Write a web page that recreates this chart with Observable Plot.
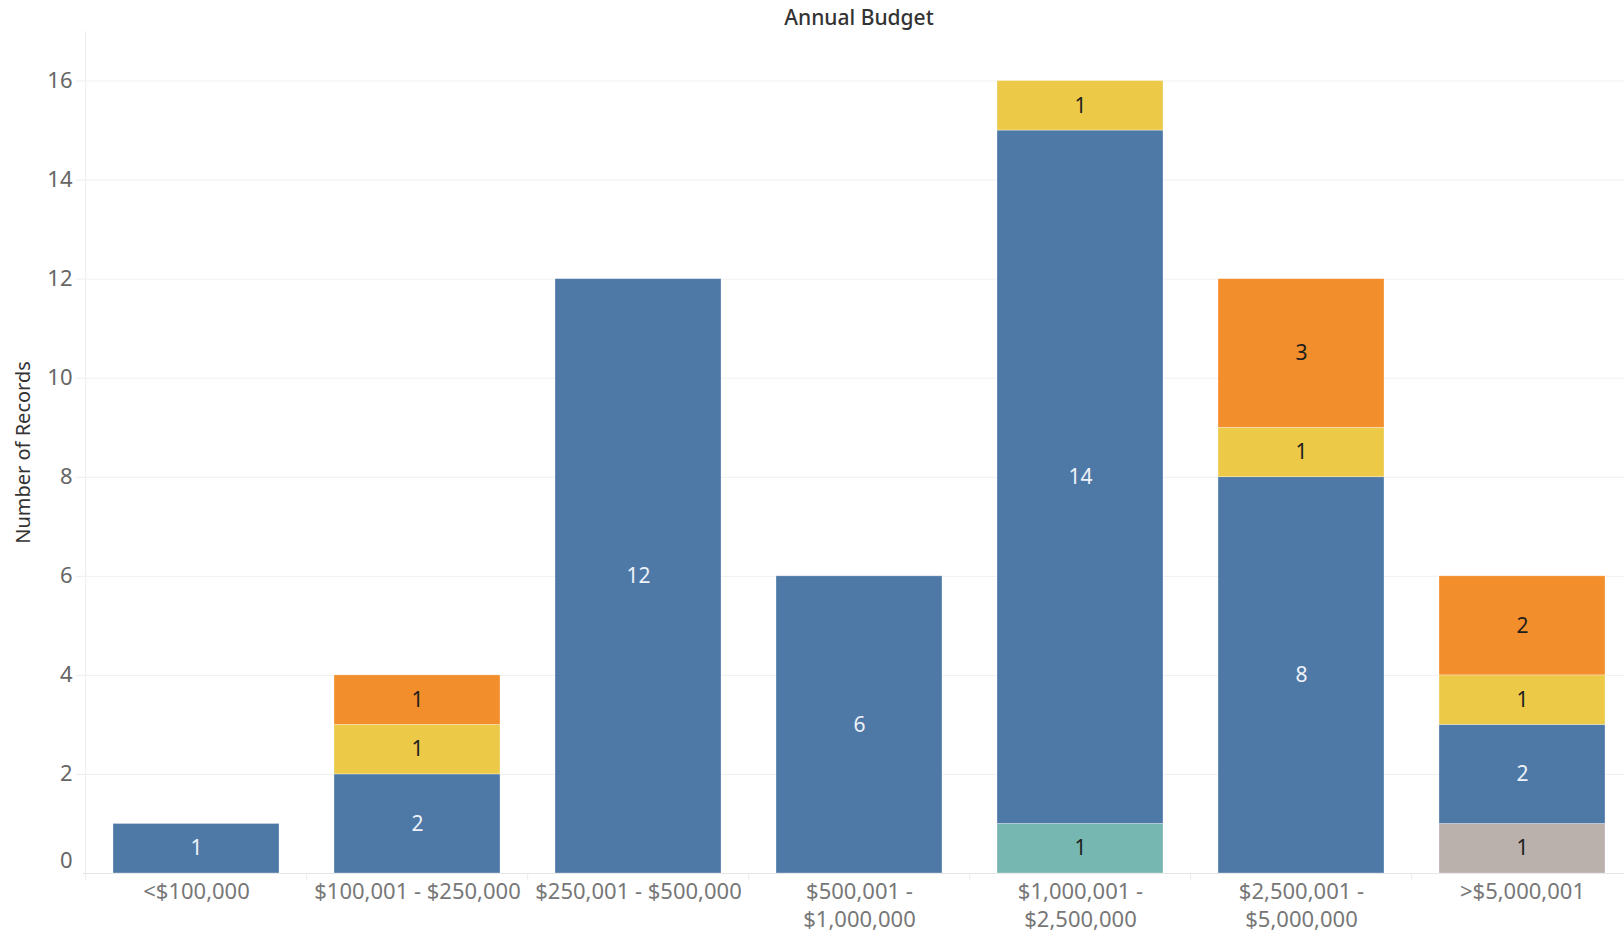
<!DOCTYPE html>
<html>
<head>
<meta charset="utf-8">
<script src="https://cdn.jsdelivr.net/npm/d3@7"></script>
<script src="https://cdn.jsdelivr.net/npm/@observablehq/plot@0.6"></script>
<style>
  html, body { margin: 0; padding: 0; background: #fff; overflow: hidden; }
  #chart svg { display: block; }
</style>
</head>
<body>
<div id="chart"></div>
<script>
// ---- Data ----
const categories = ["<$100,000", "$100,001 - $250,000", "$250,001 - $500,000", "$500,001 - $1,000,000", "$1,000,001 - $2,500,000", "$2,500,001 - $5,000,000", ">$5,000,001"];
const tickLabels = ["<$100,000", "$100,001 - $250,000", "$250,001 - $500,000", "$500,001 -\n$1,000,000", "$1,000,001 -\n$2,500,000", "$2,500,001 -\n$5,000,000", ">$5,000,001"];
const seriesNames = ["Group A", "Group B", "Group C", "Group D", "Group E"];
const seriesColors = ["#76b7b2", "#bab0ac", "#4e79a7", "#edc948", "#f28e2b"];
const groupAValues = [0, 0, 0, 0, 1, 0, 0];   // teal
const groupBValues = [0, 0, 0, 0, 0, 0, 1];   // grey
const groupCValues = [1, 2, 12, 6, 14, 8, 2]; // blue
const groupDValues = [0, 1, 0, 0, 1, 1, 1];   // yellow
const groupEValues = [0, 1, 0, 0, 0, 3, 2];   // orange
const yTicks = [0, 2, 4, 6, 8, 10, 12, 14, 16];

const seriesValues = [groupAValues, groupBValues, groupCValues, groupDValues, groupEValues];
const lightLabelSeries = "Group C";
const rows = [];
categories.forEach((c, i) => {
  seriesNames.forEach((s, j) => {
    const v = seriesValues[j][i];
    if (v > 0) rows.push({category: c, series: s, value: v});
  });
});

const W = 1624, H = 933;
const mL = 83, mR = -10, mT = 31, mB = 60;
const step = (W - mL - mR) / categories.length;
const font = "'Noto Sans', sans-serif";

const chart = Plot.plot({
  width: W,
  height: H,
  marginLeft: mL,
  marginRight: mR,
  marginTop: mT,
  marginBottom: mB,
  style: {fontFamily: font, background: "#fff", overflow: "hidden"},
  x: {domain: categories, paddingInner: 0.25, paddingOuter: 0.12, label: null},
  y: {domain: [0, 17], label: null},
  color: {type: "ordinal", domain: seriesNames, range: seriesColors},
  marks: [
    // horizontal gridlines
    Plot.ruleY(yTicks.slice(1), {stroke: "#f0f0f0", strokeWidth: 1}),
    // left axis line
    Plot.ruleX([categories[0]], {x: d => d, y1: 17, y2: -0.15, dx: -step / 2, stroke: "#ececec"}),
    // category separators below baseline
    Plot.ruleX(categories.slice(1), {x: d => d, y1: 0, y2: -0.15, dx: -step / 2, stroke: "#ececec"}),
    // baseline
    Plot.ruleY([0], {stroke: "#e6e6e6"}),
    // bars
    Plot.barY(rows, Plot.stackY({
      x: "category", y: "value", z: "series", fill: "series",
      order: seriesNames, stroke: "#fff", strokeWidth: 0.6, strokeOpacity: 0.5
    })),
    // labels on blue
    Plot.text(rows, Plot.stackY({
      x: "category", y: "value", z: "series", order: seriesNames,
      text: d => d.series === lightLabelSeries ? String(d.value) : null,
      fill: "#eef2f8", fontSize: 21
    })),
    // labels on other colours
    Plot.text(rows, Plot.stackY({
      x: "category", y: "value", z: "series", order: seriesNames,
      text: d => d.series !== lightLabelSeries ? String(d.value) : null,
      fill: "#1e1e1e", fontSize: 21
    })),
    // y axis
    Plot.axisY(yTicks.slice(1), {tickSize: 7, tickPadding: 4, stroke: "#ececec", fill: "#666", fontSize: 22, label: null, tickFormat: d => String(d)}),
    Plot.axisY([0], {tickSize: 0, tickPadding: 11, dy: -13, fill: "#666", fontSize: 22, label: null, tickFormat: d => String(d)}),
    // x axis
    Plot.axisX({
      tickSize: 0, tickPadding: 6, fill: "#777", fontSize: 22, lineHeight: 1.27, label: null,
      tickFormat: d => tickLabels[categories.indexOf(d)]
    }),
    // title
    Plot.text(["Annual Budget"], {frameAnchor: "top", lineAnchor: "middle", dy: -13, text: d => d, fontSize: 21, fontWeight: 500, fill: "#333"}),
    // y label
    Plot.text(["Number of Records"], {frameAnchor: "left", textAnchor: "middle", lineAnchor: "middle", rotate: -90, dx: -60, text: d => d, fontSize: 20, fill: "#333"})
  ]
});

document.getElementById("chart").appendChild(chart);
</script>
</body>
</html>
